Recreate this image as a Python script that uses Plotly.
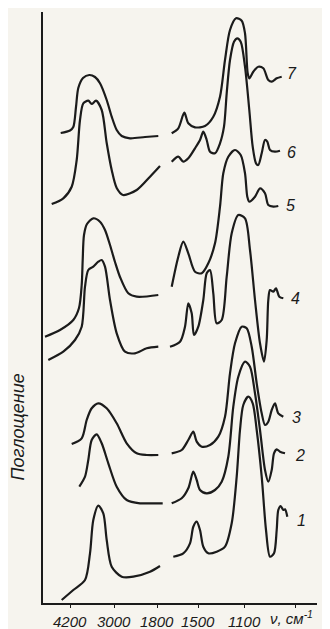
import plotly.graph_objects as go

# Axis positions (plot units along the broken wavenumber axis) and their labels
tick_pos = [70, 114, 157, 198, 244, 295]
tick_text = ["4200", "3000", "1800", "1500", "1100", ""]
axis_unit = "ν, см<sup>-1</sup>"
axis_unit_x = 268

# ---- Spectrum 1 ----
s1_lx = [61.7, 73.3, 85, 90, 93.3, 98.3, 103.3, 106.7, 111.7, 121.7, 133.3, 150, 160]
s1_ly = [3, 13, 23, 49.7, 83, 97.3, 89.7, 63, 36.3, 26.3, 26.3, 31.3, 37]
s1_rx = [173.3, 183.3, 190, 193.3, 196.7, 200, 203.3, 208.3, 216.7, 225, 231.7, 236.7, 240, 243.3,
         248.3, 252.7, 256.7, 261.7, 266, 270, 274, 276.7, 278.3, 280.7, 283.3, 285, 287.3]
s1_ry = [46.3, 49.7, 59.7, 76.3, 81.3, 73, 56.3, 49.7, 51.3, 56.3, 79.7, 126.3, 173, 198,
         206.3, 199.7, 173, 126.3, 73, 46.3, 49.7, 73, 93, 97, 93, 93.7, 86.3]

# ---- Spectrum 2 ----
s2_lx = [79.3, 85, 88.3, 91.7, 96.7, 101.7, 108.3, 116.7, 126.7, 140, 153.3, 162.7]
s2_ly = [116.3, 126.3, 143, 163, 168.7, 159.7, 139.7, 116.3, 103, 99.7, 99.7, 99.7]
s2_rx = [171.7, 181.7, 188.3, 193.3, 196.7, 200, 206.7, 215, 221.7, 228.3, 233.3, 238.3, 245, 250,
         255, 260, 265, 268.3, 271.7, 274, 276.7, 280, 285]
s2_ry = [99.7, 104.7, 114.7, 131.3, 123, 113, 109.7, 113, 121.3, 146.3, 196.3, 226.3, 241.3, 236.3,
         209.7, 173, 133, 121.3, 133, 149.7, 153.7, 151.3, 149.7]

# ---- Spectrum 3 ----
s3_lx = [71.7, 81.7, 86.7, 91.7, 98.3, 106.7, 116.7, 126.7, 136.7, 146.7, 158.3]
s3_ly = [159, 164.7, 183, 194.7, 199.7, 194.7, 179.7, 159.7, 149.7, 148, 148]
s3_rx = [171.7, 181.7, 188.3, 193.3, 196.7, 201.7, 210, 218.3, 225, 230, 235, 241.7, 246.7, 251.7,
         256.7, 261.7, 265, 268.3, 271.7, 275, 278.3, 283.3]
s3_ry = [149.7, 153, 163, 171.3, 161.3, 156.3, 158, 166.3, 186.3, 229.7, 259.7, 276.3, 274.7, 256.3,
         219.7, 189.7, 178, 181.3, 193, 199.7, 189.7, 186.3]

# ---- Spectrum 4 ----
s4_lx = [48.3, 63.3, 75, 81.7, 85, 88.3, 93.3, 98.3, 101.7, 105, 110, 116.7, 125, 135, 146.7, 158.3]
s4_ly = [243, 251.3, 263, 276.3, 316.3, 333, 336.3, 341.3, 343, 336.3, 303, 269.7, 251.3, 249.7, 254.7, 256.3]
s4_rx = [170, 180, 185, 188.3, 191.7, 194, 198.3, 203.3, 206.7, 210, 213.3, 216.7, 221.7, 226.7,
         231.7, 238.3, 245, 250, 255, 260, 264, 266.7, 268.3, 270, 273.3, 276, 279.3, 283.3]
s4_ry = [256.3, 261.3, 276.3, 299.7, 289.7, 268, 276.3, 303, 329.7, 333, 309.7, 279.7, 283, 326.3,
         369.7, 388, 384.7, 353, 303, 259.7, 241.3, 263, 303, 313, 311.3, 314.7, 306.3, 304.7]

# ---- Spectrum 5 ----
s5_lx = [45, 60, 73.3, 79, 81.7, 82.7, 84, 87, 93.3, 100, 105, 110, 115, 120, 128.3, 136.7, 158.3]
s5_ly = [266.3, 273, 283, 295, 318, 343, 368, 379, 384.7, 381.3, 373, 358, 341, 326, 309.7, 306.3, 308]
s5_rx = [171.7, 178.3, 183.3, 188.3, 195, 201.7, 208.3, 215, 220, 223.3, 228.3, 235, 240.7, 245,
         247.3, 249.3, 255, 260, 265, 268.3, 273.3, 278.3]
s5_ry = [316.3, 346.3, 361.3, 349.7, 331.3, 329.7, 339.7, 359.7, 396.3, 429.7, 446.3, 453, 448, 429.7,
         406.3, 401.3, 406.3, 414.7, 409.7, 398, 396.3, 397]

# ---- Spectrum 6 ----
s6_lx = [51.7, 63.3, 71.7, 76.7, 80, 83.3, 88.3, 91.7, 96, 101.7, 106.7, 111.7, 116.7, 123, 136.7, 150, 160]
s6_ly = [399, 404.7, 416.3, 443, 483, 499.7, 502.3, 499, 502.3, 493, 460, 433, 415, 408, 413, 426.3, 437]
s6_rx = [171.7, 178.3, 183.3, 188.3, 195, 200, 203.3, 206.7, 210, 215, 220, 224, 226.7, 230, 234,
         237.3, 240.7, 245, 249.3, 252.7, 256, 258.3, 261.7, 265, 267.3, 270, 275, 280]
s6_ry = [441.3, 446.3, 441.3, 444.7, 454.7, 463, 471.3, 463, 451.3, 449.7, 459.7, 476.3, 509.7, 543, 561.3,
         564.7, 561.3, 536.3, 493, 456.3, 439.7, 438, 449.7, 463, 461.3, 453, 451.3, 452.3]

# ---- Spectrum 7 ----
s7_lx = [60.7, 70, 73.3, 76, 78.3, 83, 89.3, 95, 100, 106.7, 111.7, 116.7, 121.7, 130, 145, 158.3]
s7_ly = [470, 472.5, 476, 496, 515, 525, 528, 526, 519.7, 503, 486.3, 473, 467, 464.7, 466, 467]
s7_rx = [171.7, 178.3, 184.3, 188.3, 195, 205, 213.3, 220, 225, 230, 236, 241.7, 245, 247.7, 249.3,
         253.3, 258.3, 263.3, 268.3, 271.7, 276.7, 281.7]
s7_ry = [469.7, 474.7, 490.3, 479.7, 475.7, 477, 486.3, 506.3, 543, 573, 584.7, 582.3, 569.7, 529.7, 524.7,
         531.3, 536.3, 534.7, 523, 521.3, 524.7, 526.3]

# Curve numbers and their positions
label_text = ["1", "2", "3", "4", "5", "6", "7"]
label_x = [301.7, 300, 296.7, 295, 290, 291.7, 291.7]
label_y = [83, 148, 186, 305, 398, 451, 530]

segments = [
    (s1_lx, s1_ly), (s1_rx, s1_ry), (s2_lx, s2_ly), (s2_rx, s2_ry),
    (s3_lx, s3_ly), (s3_rx, s3_ry), (s4_lx, s4_ly), (s4_rx, s4_ry),
    (s5_lx, s5_ly), (s5_rx, s5_ry), (s6_lx, s6_ly), (s6_rx, s6_ry),
    (s7_lx, s7_ly), (s7_rx, s7_ry),
]

INK = "#1b1b1b"
PAPER = "#f6f4ee"
FONT = "Liberation Sans, Arial, sans-serif"

fig = go.Figure()
for xs, ys in segments:
    fig.add_trace(go.Scatter(
        x=xs, y=ys, mode="lines",
        line=dict(color=INK, width=2.2, shape="spline", smoothing=0.8),
        hoverinfo="skip", showlegend=False,
    ))

for t, lx, ly in zip(label_text, label_x, label_y):
    fig.add_annotation(x=lx, y=ly, xref="x", yref="y", text=t, showarrow=False,
                       font=dict(family=FONT, size=16, color=INK, style="italic"))

# tick labels placed under the axis ticks
for tv, tt in zip(tick_pos, tick_text):
    if tt:
        fig.add_annotation(x=tv, y=0, xref="x", yref="paper", yanchor="top", yshift=-8,
                           text=tt, showarrow=False,
                           font=dict(family=FONT, size=15, color=INK, style="italic"))
# unit label with its superscript
fig.add_annotation(x=axis_unit_x, y=0, xref="x", yref="paper", xanchor="left", yanchor="top",
                   yshift=-3, text=axis_unit, showarrow=False,
                   font=dict(family=FONT, size=15, color=INK, style="italic"))

fig.add_annotation(x=0, y=0.297, xref="paper", yref="paper", xanchor="center", yanchor="middle",
                   xshift=-25, text="Поглощение", textangle=-90, showarrow=False,
                   font=dict(family=FONT, size=18, color=INK, style="italic"))

# the page body adds an 8 px offset, so the figure is 8 px smaller than the window
fig.update_layout(
    width=322, height=621,
    margin=dict(l=35, r=13, t=4, b=26),
    paper_bgcolor=PAPER, plot_bgcolor=PAPER,
    showlegend=False,
)
fig.update_xaxes(
    range=[43, 317], showgrid=False, zeroline=False, automargin=False,
    showline=True, linecolor=INK, linewidth=2,
    tickmode="array", tickvals=tick_pos, showticklabels=False,
    ticks="outside", ticklen=3, tickcolor=INK, tickwidth=1,
)
fig.update_yaxes(
    range=[0, 591], showgrid=False, zeroline=False, automargin=False,
    showline=True, linecolor=INK, linewidth=2,
    showticklabels=False, ticks="",
)

fig.write_html("out.html")
